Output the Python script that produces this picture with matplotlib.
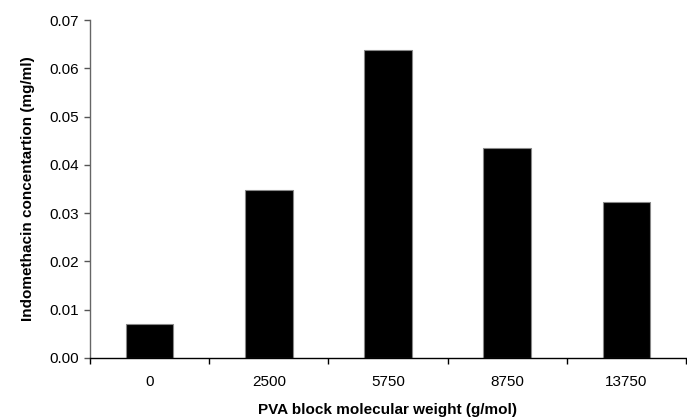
import numpy as np
import matplotlib
matplotlib.use("Agg")
import matplotlib.pyplot as plt

plt.rcParams['font.family'] = ['Liberation Sans', 'DejaVu Sans']

# data
mol_weights = ["0", "2500", "5750", "8750", "13750"]
concentration = [0.0070, 0.0347, 0.0637, 0.0435, 0.0324]
y_ticks = [0.00, 0.01, 0.02, 0.03, 0.04, 0.05, 0.06, 0.07]

fig = plt.figure(figsize=(6.87, 4.17), dpi=100)
ax = fig.add_axes([0.131, 0.1415, 0.8675, 0.8105])

x = np.arange(len(mol_weights))
ax.bar(x, concentration, width=0.4, color='black', edgecolor='#888888', linewidth=0.8)

ax.set_xlim(-0.5, len(mol_weights) - 0.5)
ax.set_ylim(0, 0.07)
ax.set_yticks(y_ticks)
ax.set_yticklabels([f"{v:.2f}" for v in y_ticks])

# category labels centred, tick marks between categories
ax.set_xticks(x)
ax.set_xticklabels(mol_weights)
ax.set_xticks(np.arange(len(mol_weights) + 1) - 0.5, minor=True)
ax.tick_params(axis='x', which='major', length=0, pad=12, labelsize=11)
ax.tick_params(axis='x', which='minor', length=4, width=1, color='black', direction='out')
ax.tick_params(axis='y', length=4, width=1, color='#555555', labelsize=11, pad=4)

for side in ['top', 'right']:
    ax.spines[side].set_visible(False)
ax.spines['left'].set_color('#666666')
ax.spines['bottom'].set_color('black')
ax.spines['left'].set_linewidth(1.0)
ax.spines['bottom'].set_linewidth(1.0)

ax.set_xlabel("PVA block molecular weight (g/mol)", fontsize=11, fontweight='bold', labelpad=10)
ax.set_ylabel("Indomethacin concentartion (mg/ml)", fontsize=11, fontweight='bold', labelpad=10)

fig.savefig("out.png", dpi=100)
